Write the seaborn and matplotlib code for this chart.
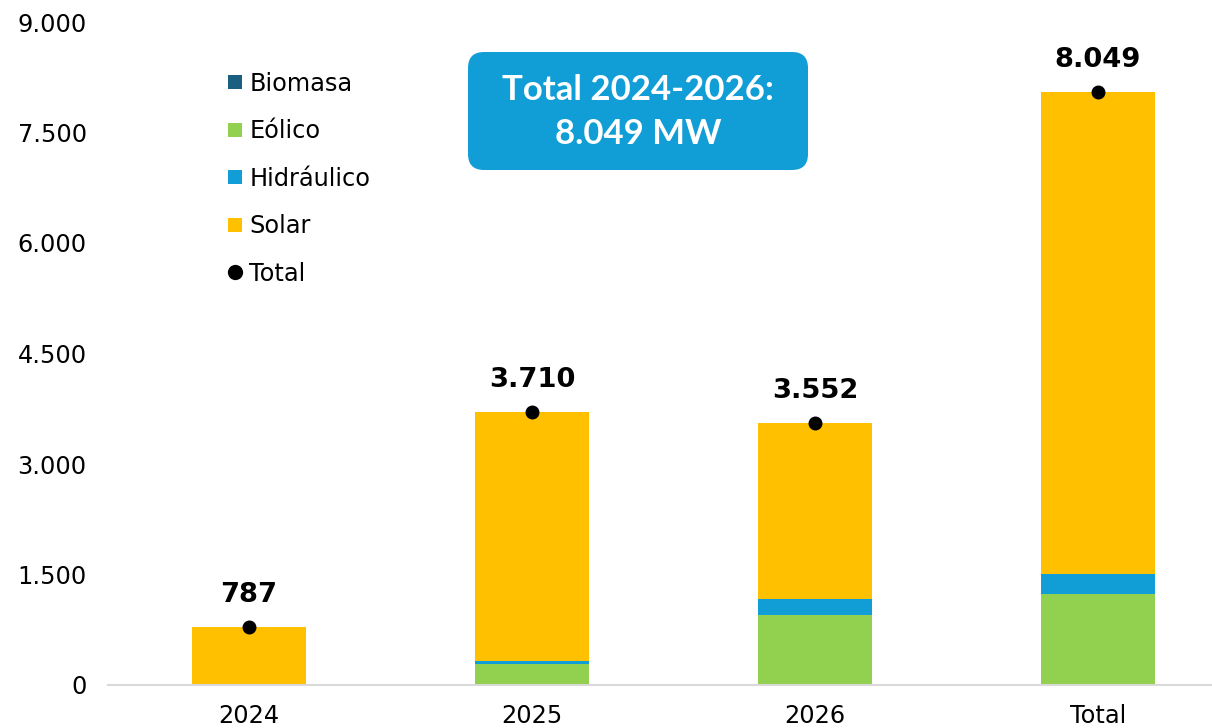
import matplotlib
matplotlib.use("Agg")
import matplotlib.pyplot as plt
from matplotlib.patches import FancyBboxPatch
from matplotlib.lines import Line2D
from matplotlib.transforms import IdentityTransform
import seaborn as sns
import pandas as pd
import numpy as np

categories = ["2024", "2025", "2026", "Total"]
biomasa = [0, 0, 0, 0]
eolico = [0, 290, 950, 1240]
hidraulico = [10, 35, 220, 265]
solar = [777, 3385, 2382, 6544]
totals = [787, 3710, 3552, 8049]
total_labels = ["787", "3.710", "3.552", "8.049"]
yticks = [0, 1500, 3000, 4500, 6000, 7500, 9000]
ytick_labels = ["0", "1.500", "3.000", "4.500", "6.000", "7.500", "9.000"]

series_names = ["Biomasa", "Eólico", "Hidráulico", "Solar"]
colors = {"Biomasa": "#1A5E80", "Eólico": "#92D050", "Hidráulico": "#119ED6", "Solar": "#FFC000"}

sns.set_theme(style="white")
plt.rcParams["font.family"] = ["DejaVu Sans"]

fig = plt.figure(figsize=(12.12, 7.28), dpi=100)
ax = fig.add_axes([107.5 / 1212, 43 / 728, 1 - 107.5 / 1212, 663 / 728])

layers = [biomasa, eolico, hidraulico, solar]
cum = np.cumsum(np.array(layers, dtype=float), axis=0)
for i in range(len(series_names) - 1, -1, -1):
    d = pd.DataFrame({"cat": categories, "val": cum[i]})
    sns.barplot(data=d, x="cat", y="val", color=colors[series_names[i]],
                width=0.4, saturation=1, ax=ax, errorbar=None, linewidth=0)

dt = pd.DataFrame({"cat": categories, "val": totals})
sns.pointplot(data=dt, x="cat", y="val", color="black", linestyle="none",
              markers="o", markersize=8, ax=ax, errorbar=None)

for i, (t, lab) in enumerate(zip(totals, total_labels)):
    ax.annotate(lab, (i, t), xytext=(0, 23), textcoords="offset points",
                ha="center", va="center", fontsize=19.7, fontweight="bold", color="black")

ax.set_xlim(-0.5, 3 + (1212 - 1098) / 283)
ax.set_ylim(0, 9000)
ax.set_yticks(yticks)
ax.set_yticklabels(ytick_labels)
ax.set_xlabel("")
ax.set_ylabel("")
ax.tick_params(axis="y", length=0, pad=15, labelsize=17.3, labelcolor="black")
ax.tick_params(axis="x", length=0, pad=14, labelsize=17.3, labelcolor="black")
for s in ["top", "right", "left"]:
    ax.spines[s].set_visible(False)
ax.spines["bottom"].set_color("#D9D9D9")
ax.spines["bottom"].set_linewidth(1.5)
ax.grid(False)

handles = [Line2D([], [], marker="s", linestyle="none", markersize=10,
                  markerfacecolor=colors[n], markeredgewidth=0) for n in series_names]
handles.append(Line2D([], [], marker="o", linestyle="none", markersize=11,
                      markerfacecolor="black", markeredgewidth=0))
labels = series_names + ["Total"]
leg = fig.legend(handles, labels, loc="upper left", bbox_to_anchor=(218 / 1212, 1 - 62 / 728),
                 frameon=False, fontsize=17.3, handlelength=0.6, handletextpad=0.3,
                 labelspacing=0.98, borderaxespad=0, labelcolor="black")

box = FancyBboxPatch((468, 728 - 170), 340, 118, boxstyle="round,pad=0,rounding_size=16",
                     transform=IdentityTransform(), facecolor="#119ED6", edgecolor="none")
fig.patches.append(box)
fig.text(638 / 1212, 1 - 90 / 728, "Total 2024-2026:", ha="center", va="center",
         color="white", fontsize=25, fontweight="bold", family="Lato")
fig.text(638 / 1212, 1 - 134 / 728, "8.049 MW", ha="center", va="center",
         color="white", fontsize=25, fontweight="bold", family="Lato")

fig.savefig("out.png", dpi=100)
